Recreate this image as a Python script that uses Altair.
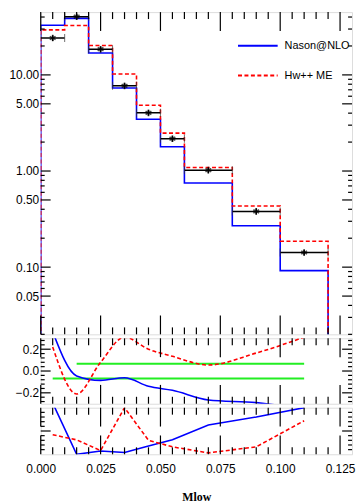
import altair as alt
import pandas as pd

# ---------------- data ----------------
edges = [0.0, 0.01, 0.02, 0.03, 0.04, 0.05, 0.06, 0.08, 0.10, 0.12]
centers = [0.005, 0.015, 0.025, 0.035, 0.045, 0.055, 0.07, 0.09, 0.11]
data_vals = [24.2, 40.3, 18.5, 7.7, 4.03, 2.17, 1.02, 0.38, 0.142]
data_errs = [1.7, 2.8, 1.3, 0.54, 0.28, 0.15, 0.07, 0.027, 0.01]
nason_vals = [32.8, 38.7, 16.9, 7.3, 3.45, 1.79, 0.75, 0.27, 0.092]
hwme_vals = [29.4, 32.6, 20.2, 10.2, 4.83, 2.48, 1.09, 0.432, 0.186]

ratio_nason = [0.36, -0.045, -0.086, -0.062, -0.14, -0.177, -0.265, -0.29, -0.35]
ratio_hwme = [0.22, -0.21, 0.08, 0.31, 0.2, 0.135, 0.055, 0.165, 0.31]
band_up_x = [0.015, 0.11]
band_up_y = [0.067, 0.067]
band_lo_x = [0.005, 0.11]
band_lo_y = [-0.068, -0.068]

bottom_nason = [1.1, 0.0, 0.07, 0.04, 0.18, 0.31, 0.63, 0.8, 1.0]
bottom_hwme = [0.42, 0.31, 0.08, 1.0, 0.3, 0.16, 0.03, 0.16, 0.72]

series_names = ["Nason@NLO", "Hw++ ME"]
colors = ["#0000ff", "#ff0000"]

main_y_labels = [10, 5, 1, 0.5, 0.1, 0.05]
main_y_minor = [0.02, 0.03, 0.04, 0.06, 0.07, 0.08, 0.09, 0.2, 0.3, 0.4, 0.6,
                0.7, 0.8, 0.9, 2, 3, 4, 6, 7, 8, 9, 20, 30, 40]
ratio_y_labels = [-0.2, 0, 0.2]
ratio_y_minor = [-0.28, -0.24, -0.16, -0.12, -0.08, -0.04, 0.04, 0.08, 0.12,
                 0.16, 0.24, 0.28]
bottom_y_major = [0.5]
bottom_y_minor = [0.1, 0.2, 0.3, 0.4, 0.6, 0.7, 0.8, 0.9]
x_labels = [0.0, 0.025, 0.05, 0.075, 0.1, 0.125]
x_minor = [0.005, 0.01, 0.015, 0.02, 0.03, 0.035, 0.04, 0.045, 0.055, 0.06,
           0.065, 0.07, 0.08, 0.085, 0.09, 0.095, 0.105, 0.11, 0.115, 0.12]

# ---------------- layout ----------------
W = 314
H_MAIN, H_MID, H_BOT = 325, 66, 47
XDOM = [0, 0.13]
YDOM_MAIN = [0.02, 45]
YDOM_MID = [-0.3, 0.3]
YDOM_BOT = [0, 1]
FONT = "Liberation Sans"
FS = 12
MAJ_X, MIN_X = 19, 7
MAJ_Y, MIN_Y = 10, 4

xs = alt.Scale(domain=XDOM, nice=False, zero=False, padding=0)
ys_main = alt.Scale(type="log", domain=YDOM_MAIN, nice=False, padding=0)
ys_mid = alt.Scale(domain=YDOM_MID, nice=False, zero=False, padding=0)
ys_bot = alt.Scale(domain=YDOM_BOT, nice=False, zero=False, padding=0)

main_axis = alt.Axis(values=main_y_labels, format=".2f", ticks=False, domain=False,
                     grid=False, labelFont=FONT, labelFontSize=FS, labelOverlap=False,
                     labelColor="black", labelPadding=2, title=None)
mid_axis = alt.Axis(values=ratio_y_labels, format=".1f", ticks=False, domain=False,
                    grid=False, labelFont=FONT, labelFontSize=FS, labelOverlap=False,
                    labelColor="black", labelPadding=2, title=None)
x_axis = alt.Axis(values=x_labels, format=".3f", ticks=False, domain=False, grid=False,
                  labelFont=FONT, labelFontSize=FS, labelColor="black", labelPadding=9,
                  labelOverlap=False, labelFlush=False,
                  title="Mlow", titleFont="Liberation Serif", titleFontSize=12,
                  titleFontWeight="bold", titleColor="black", titlePadding=18)


def X(field, with_axis):
    return alt.X(field, scale=xs, axis=x_axis if with_axis else None)


# step-line table
step_rows = []
for name, vals in zip(series_names, [nason_vals, hwme_vals]):
    step_rows.append({"series": name, "x": edges[0], "y": YDOM_MAIN[0] / 2, "o": 0})
    for i, v in enumerate(vals):
        step_rows.append({"series": name, "x": edges[i], "y": v, "o": i + 1})
    step_rows.append({"series": name, "x": edges[-1], "y": vals[-1], "o": 20})
    step_rows.append({"series": name, "x": edges[-1], "y": YDOM_MAIN[0] / 2, "o": 21})
step_df = pd.DataFrame(step_rows)

pts_df = pd.DataFrame({
    "lo": edges[:-1], "hi": edges[1:], "c": centers, "v": data_vals,
    "vlo": [v - e for v, e in zip(data_vals, data_errs)],
    "vhi": [v + e for v, e in zip(data_vals, data_errs)],
})
caps_df = pd.DataFrame({"x": edges[:-1] + edges[1:], "v": data_vals + data_vals})

xmaj_df = pd.DataFrame({"x": x_labels})
xmin_df = pd.DataFrame({"x": x_minor})


def rule_ticks(h, ys, yaxis, ymajor, yminor, xaxis_on):
    layers = []
    for df, L in [(xmaj_df, MAJ_X), (xmin_df, MIN_X)]:
        base = alt.Chart(df).mark_rule(color="black", strokeWidth=1.2)
        layers.append(base.encode(x=X("x:Q", xaxis_on), y=alt.value(0), y2=alt.value(L)))
        layers.append(base.encode(x=X("x:Q", xaxis_on), y=alt.value(h), y2=alt.value(h - L)))
    for vals, L in [(ymajor, MAJ_Y), (yminor, MIN_Y)]:
        base = alt.Chart(pd.DataFrame({"y": vals})).mark_rule(color="black", strokeWidth=1.2)
        layers.append(base.encode(y=alt.Y("y:Q", scale=ys, axis=yaxis), x=alt.value(0), x2=alt.value(L)))
        layers.append(base.encode(y=alt.Y("y:Q", scale=ys, axis=yaxis), x=alt.value(W), x2=alt.value(W - L)))
    return layers


# ---------------- main panel ----------------
legend = alt.Legend(title=None, orient="none", legendX=198, legendY=26,
                    symbolType="stroke", symbolSize=1600, symbolStrokeWidth=2,
                    clipHeight=16, rowPadding=14, labelFont=FONT,
                    labelFontSize=11, labelColor="black", labelOffset=6)

YM = lambda f: alt.Y(f, scale=ys_main, axis=main_axis)

steps = alt.Chart(step_df).mark_line(interpolate="step-after", clip=True, strokeWidth=1.6).encode(
    x=X("x:Q", False), y=YM("y:Q"), order="o:Q",
    color=alt.Color("series:N", scale=alt.Scale(domain=series_names, range=colors), legend=legend),
    strokeDash=alt.StrokeDash("series:N", scale=alt.Scale(domain=series_names, range=[[1, 0], [4, 2.5]]),
                              legend=legend),
)
hbars = alt.Chart(pts_df).mark_rule(color="black", strokeWidth=1.5, clip=True).encode(
    x=X("lo:Q", False), x2="hi:Q", y=YM("v:Q"))
vbars = alt.Chart(pts_df).mark_rule(color="black", strokeWidth=1.5, clip=True).encode(
    x=X("c:Q", False), y=YM("vlo:Q"), y2="vhi:Q")
caps = alt.Chart(caps_df).mark_tick(orient="vertical", color="#333333", thickness=1, size=8, clip=True).encode(
    x=X("x:Q", False), y=YM("v:Q"))
star = "M0,-1L0,1M-0.87,-0.5L0.87,0.5M-0.87,0.5L0.87,-0.5"
stars = alt.Chart(pts_df).mark_point(shape=star, filled=False, color="black", strokeWidth=1.6,
                                     size=45, clip=True).encode(x=X("c:Q", False), y=YM("v:Q"))

main = alt.layer(steps, hbars, vbars, caps, stars,
                 *rule_ticks(H_MAIN, ys_main, main_axis, main_y_labels, main_y_minor, False)
                 ).properties(width=W, height=H_MAIN)

# ---------------- ratio panel ----------------
YR = lambda f: alt.Y(f, scale=ys_mid, axis=mid_axis)
ratio_df = pd.DataFrame({"x": centers * 2, "y": ratio_nason + ratio_hwme,
                         "s": [series_names[0]] * 9 + [series_names[1]] * 9})
band_df = pd.DataFrame({"x": band_up_x + band_lo_x, "y": band_up_y + band_lo_y,
                        "b": ["up", "up", "lo", "lo"]})
green = alt.Chart(band_df).mark_line(color="#22ee22", strokeWidth=2, clip=True).encode(
    x=X("x:Q", False), y=YR("y:Q"), detail="b:N")
r_blue = alt.Chart(ratio_df).transform_filter(alt.datum.s == series_names[0]).mark_line(
    color=colors[0], strokeWidth=1.6, interpolate="monotone", clip=True).encode(
    x=X("x:Q", False), y=YR("y:Q"))
r_red = alt.Chart(ratio_df).transform_filter(alt.datum.s == series_names[1]).mark_line(
    color=colors[1], strokeWidth=1.6, strokeDash=[4, 2.5], interpolate="monotone", clip=True).encode(
    x=X("x:Q", False), y=YR("y:Q"))
mid = alt.layer(green, r_blue, r_red,
                *rule_ticks(H_MID, ys_mid, mid_axis, ratio_y_labels, ratio_y_minor, False)
                ).properties(width=W, height=H_MID)

# ---------------- bottom panel ----------------
YB = lambda f: alt.Y(f, scale=ys_bot, axis=None)
bot_df = pd.DataFrame({"x": centers * 2, "y": bottom_nason + bottom_hwme,
                       "s": [series_names[0]] * 9 + [series_names[1]] * 9})
b_blue = alt.Chart(bot_df).transform_filter(alt.datum.s == series_names[0]).mark_line(
    color=colors[0], strokeWidth=1.6, clip=True).encode(x=X("x:Q", True), y=YB("y:Q"))
b_red = alt.Chart(bot_df).transform_filter(alt.datum.s == series_names[1]).mark_line(
    color=colors[1], strokeWidth=1.6, strokeDash=[4, 2.5], clip=True).encode(x=X("x:Q", True), y=YB("y:Q"))
bot = alt.layer(b_blue, b_red,
                *rule_ticks(H_BOT, ys_bot, None, bottom_y_major, bottom_y_minor, True)
                ).properties(width=W, height=H_BOT)

chart = alt.vconcat(main, mid, bot, spacing=0).resolve_scale(
    color="independent", strokeDash="independent"
).properties(
    padding={"left": 0, "top": 0, "right": 0, "bottom": 0}
).configure_view(stroke="black", strokeWidth=1.3).configure(background="white")

chart.save("out.html", embed_options={"renderer": "svg", "actions": False})
